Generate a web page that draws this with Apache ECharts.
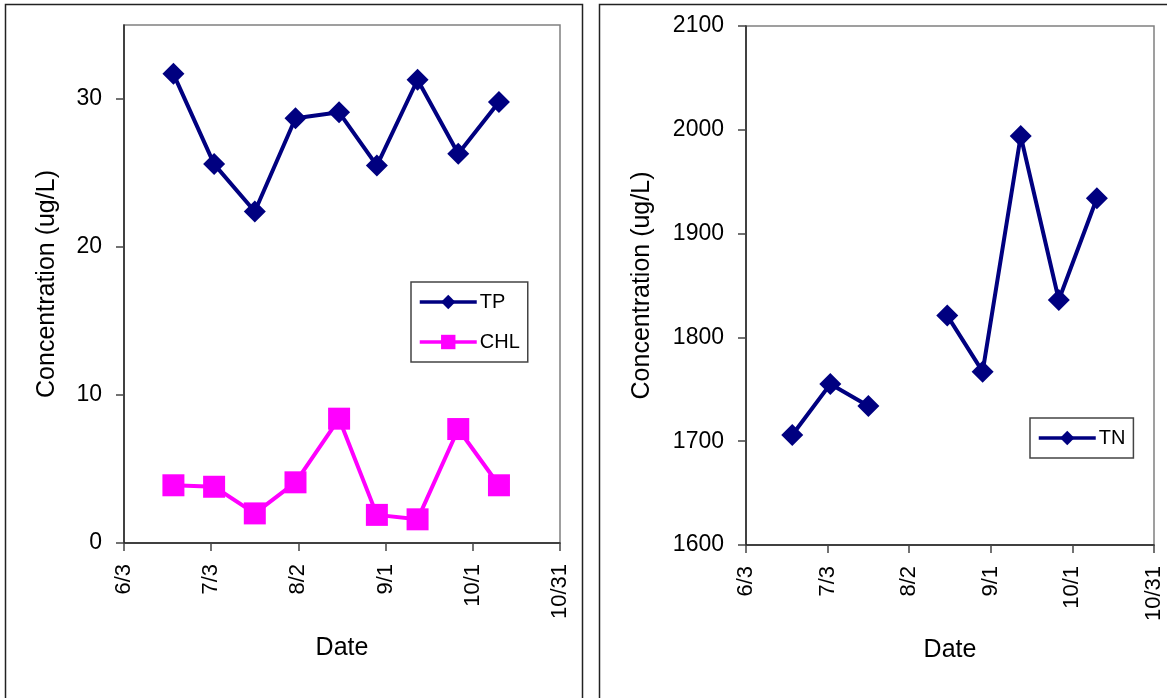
<!DOCTYPE html>
<html><head><meta charset="utf-8">
<script src="https://cdn.jsdelivr.net/npm/echarts@6/dist/echarts.min.js"></script>
<style>html,body{margin:0;padding:0;background:#fff}#c{width:1167px;height:698px}</style>
</head><body><div id="c"></div>
<script>
const tickLabels = ['6/3','7/3','8/2','9/1','10/1','10/31'];
const sampleDates = ['6/20','7/4','7/18','8/1','8/16','8/29','9/12','9/26','10/10'];
const tpValues  = [31.7, 25.6, 22.4, 28.7, 29.1, 25.5, 31.3, 26.3, 29.8];
const chlValues = [3.9, 3.8, 2.0, 4.1, 8.4, 1.9, 1.6, 7.7, 3.9];
const tnValues  = [1706, 1755, 1734, null, 1821, 1767, 1994, 1836, 1934];

function dayOffset(md){
  const [m,d] = md.split('/').map(Number);
  const [m0,d0] = tickLabels[0].split('/').map(Number);
  return Math.round((Date.UTC(2001,m-1,d) - Date.UTC(2001,m0-1,d0))/86400000);
}
const xs = sampleDates.map(dayOffset);
const pairs = vals => vals.map((v,i)=>[xs[i], v==null?'-':v]);

const FONT = "'Liberation Sans', Arial, sans-serif";
const BLACK = '#000';
function xAxis(gridIndex){
  return {
    type:'value', gridIndex, min:0, max:150, interval:30,
    name:'Date', nameLocation:'middle', nameGap:93,
    nameTextStyle:{fontFamily:FONT, fontSize:25, color:BLACK},
    axisLine:{show:true, onZero:false, lineStyle:{color:'#222', width:1.5}},
    axisTick:{show:true, inside:false, length:8, lineStyle:{color:'#444', width:1.5}},
    axisLabel:{rotate:90, margin:21, fontFamily:FONT, fontSize:22, color:BLACK,
      formatter:v=>tickLabels[Math.round(v/30)] || ''},
    splitLine:{show:false}
  };
}
function yAxis(gridIndex,min,max,interval,nameGap,custom){
  return {
    type:'value', gridIndex, min, max, interval,
    name:'Concentration (ug/L)', nameLocation:'middle', nameGap, nameRotate:90,
    nameTextStyle:{fontFamily:FONT, fontSize:25, color:BLACK},
    axisLine:{show:true, lineStyle:{color:'#222', width:1.5}},
    axisTick:{show:true, length:8, lineStyle:{color:'#444', width:1.5}, customValues:custom},
    axisLabel:{margin:22, fontFamily:FONT, fontSize:23, color:BLACK, customValues:custom,
      formatter:v=>String(v)},
    splitLine:{show:false}
  };
}
const legendCommon = {
  orient:'vertical', itemWidth:57, itemHeight:18, itemGap:20,
  borderColor:'#444', borderWidth:1.5, backgroundColor:'#fff',
  lineStyle:{width:3.5},
  textStyle:{fontFamily:FONT, fontSize:20, color:BLACK, padding:[0,0,0,-2]}
};
const chart = echarts.init(document.getElementById('c'), null, {renderer:'canvas'});
chart.setOption({
  animation:false,
  backgroundColor:'#fff',
  graphic:[
    {type:'rect', shape:{x:5.5,y:4.5,width:577,height:720}, style:{fill:'none', stroke:'#222', lineWidth:1.5}, silent:true},
    {type:'rect', shape:{x:599.5,y:4.5,width:620,height:720}, style:{fill:'none', stroke:'#222', lineWidth:1.5}, silent:true}
  ],
  grid:[
    {left:124, right:607, top:25, bottom:155, show:true, borderColor:'#808080', borderWidth:1.5, backgroundColor:'transparent'},
    {left:746, right:13, top:26, bottom:153, show:true, borderColor:'#808080', borderWidth:1.5, backgroundColor:'transparent'}
  ],
  xAxis:[xAxis(0), xAxis(1)],
  yAxis:[
    yAxis(0,0,35,10,64,[0,10,20,30]),
    yAxis(1,1600,2100,100,91,[1600,1700,1800,1900,2000,2100])
  ],
  legend:[
    Object.assign({data:['TP','CHL'], left:411, top:282, padding:[10,8,10,7]}, legendCommon),
    Object.assign({data:['TN'], left:1030, top:418, padding:[10,8,10,7]}, legendCommon)
  ],
  series:[
    {name:'TP', type:'line', xAxisIndex:0, yAxisIndex:0, data:pairs(tpValues),
     symbol:'diamond', symbolSize:22, lineStyle:{color:'#000080', width:4},
     itemStyle:{color:'#000080'}, z:3},
    {name:'CHL', type:'line', xAxisIndex:0, yAxisIndex:0, data:pairs(chlValues),
     symbol:'rect', symbolSize:22, lineStyle:{color:'#FF00FF', width:4},
     itemStyle:{color:'#FF00FF'}, z:2},
    {name:'TN', type:'line', xAxisIndex:1, yAxisIndex:1, data:pairs(tnValues),
     symbol:'diamond', symbolSize:22, connectNulls:false, lineStyle:{color:'#000080', width:4},
     itemStyle:{color:'#000080'}, z:3}
  ]
});
</script></body></html>
